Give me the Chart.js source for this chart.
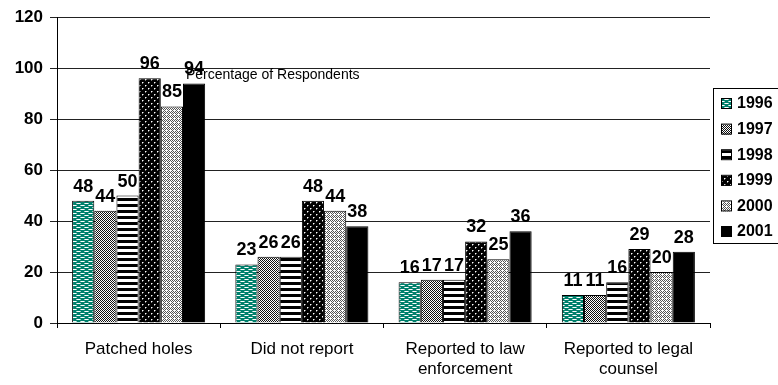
<!DOCTYPE html>
<html>
<head>
<meta charset="utf-8">
<script src="https://cdn.jsdelivr.net/npm/chart.js@4/dist/chart.umd.min.js"></script>
<style>
  html, body { margin: 0; padding: 0; background: #fff; }
  #wrap { position: relative; width: 778px; height: 385px; }
</style>
</head>
<body>
<div id="wrap"><canvas id="respChart"></canvas></div>
<script>
'use strict'
var categories = ['Patched holes', 'Did not report', ['Reported to law', 'enforcement'], ['Reported to legal', 'counsel']];
var years = ['1996', '1997', '1998', '1999', '2000', '2001'];
var v1996 = [48, 23, 16, 11];
var v1997 = [44, 26, 17, 11];
var v1998 = [50, 26, 17, 16];
var v1999 = [96, 48, 32, 29];
var v2000 = [85, 44, 25, 20];
var v2001 = [94, 38, 36, 28];
var yTicks = [0, 20, 40, 60, 80, 100, 120];
var chartTitle = 'Percentage of Respondents';

var FONT = '"Liberation Sans", Arial, sans-serif';

// small tiles used as bar fills
function tile(w, h, draw) {
  var c = document.createElement('canvas');
  c.width = w; c.height = h;
  var g = c.getContext('2d');
  draw(g);
  return g.createPattern(c, 'repeat');
}
function px(g, col, pts) {
  g.fillStyle = col;
  pts.forEach(function (p) { g.fillRect(p[0], p[1], p[2] || 1, p[3] || 1); });
}

var fills = [
  // teal with white dashes
  tile(8, 4, function (g) {
    g.fillStyle = '#00806c'; g.fillRect(0, 0, 8, 4);
    px(g, '#ffffff', [[1, 1, 3, 1], [5, 3, 3, 1]]);
    px(g, '#9fcfc6', [[0, 1], [4, 1], [4, 3], [0, 3]]);
  }),
  // fine grey checker
  tile(2, 2, function (g) {
    g.fillStyle = '#ffffff'; g.fillRect(0, 0, 2, 2);
    px(g, '#111', [[0, 0], [1, 1]]);
  }),
  // horizontal stripes
  tile(1, 6, function (g) {
    g.fillStyle = '#ffffff'; g.fillRect(0, 0, 1, 6);
    px(g, '#000', [[0, 0, 1, 3]]);
  }),
  // black with white dots
  tile(6, 6, function (g) {
    g.fillStyle = '#000'; g.fillRect(0, 0, 6, 6);
    px(g, '#ffffff', [[1, 1], [4, 4]]);
    px(g, '#777', [[2, 1], [1, 2], [5, 4], [4, 5]]);
  }),
  // light diamond lattice
  tile(4, 4, function (g) {
    g.fillStyle = '#ffffff'; g.fillRect(0, 0, 4, 4);
    px(g, '#555', [[0, 0], [2, 0], [1, 1], [3, 1], [0, 2], [1, 3], [3, 3]]);
  }),
  '#000000'
];
var series = [v1996, v1997, v1998, v1999, v2000, v2001];

var datasets = years.map(function (y, i) {
  return {
    label: y,
    data: series[i],
    backgroundColor: fills[i],
    borderColor: '#000',
    borderWidth: 1,
    borderSkipped: 'bottom',
    barPercentage: 1.0,
    categoryPercentage: 0.815
  };
});

// value labels above bars
var valueLabels = {
  id: 'valueLabels',
  afterDatasetsDraw: function (chart) {
    var ctx = chart.ctx;
    ctx.save();
    ctx.font = 'bold 18px ' + FONT;
    ctx.fillStyle = '#000';
    ctx.textAlign = 'center';
    ctx.textBaseline = 'alphabetic';
    chart.data.datasets.forEach(function (ds, i) {
      chart.getDatasetMeta(i).data.forEach(function (bar, j) {
        ctx.fillText(String(ds.data[j]), bar.x, bar.y - 9);
      });
    });
    ctx.restore();
  }
};

// title text sitting inside the plot
var innerTitle = {
  id: 'innerTitle',
  afterDraw: function (chart) {
    var ctx = chart.ctx;
    var a = chart.chartArea;
    ctx.save();
    ctx.font = '14px ' + FONT;
    ctx.fillStyle = '#000';
    ctx.textAlign = 'left';
    ctx.textBaseline = 'middle';
    ctx.fillText(chartTitle, a.left + 129, 75);
    ctx.restore();
  }
};

// boxed legend on the right
var boxLegend = {
  id: 'boxLegend',
  afterDraw: function (chart) {
    var ctx = chart.ctx;
    var x0 = 713.5, y0 = 88.5, y1 = 243.5;
    ctx.save();
    ctx.strokeStyle = '#000';
    ctx.lineWidth = 1;
    ctx.fillStyle = '#fff';
    ctx.fillRect(x0, y0, 80, y1 - y0);
    ctx.strokeRect(x0, y0, 80, y1 - y0);
    ctx.font = 'bold 16px ' + FONT;
    ctx.textBaseline = 'middle';
    chart.data.datasets.forEach(function (ds, i) {
      var cy = 104 + i * 25.6;
      ctx.fillStyle = ds.backgroundColor;
      ctx.fillRect(721, cy - 5, 10, 10);
      ctx.strokeRect(721.5, cy - 5.5, 10, 10);
      ctx.fillStyle = '#000';
      ctx.fillText(ds.label, 737, cy);
    });
    ctx.restore();
  }
};

var config = {
  type: 'bar',
  data: { labels: categories, datasets: datasets },
  options: {
    responsive: true,
    maintainAspectRatio: false,
    animation: false,
    layout: { padding: { top: 13, right: 68, left: 0, bottom: 0 } },
    plugins: {
      legend: { display: false },
      tooltip: { enabled: false },
      title: { display: false }
    },
    scales: {
      x: {
        offset: true,
        grid: { display: true, drawOnChartArea: false, offset: true, color: '#000', tickLength: 5 },
        border: { color: '#000', width: 1 },
        ticks: {
          color: '#000',
          font: { family: FONT, size: 17 },
          padding: 11,
          maxRotation: 0,
          autoSkip: false
        },
        afterFit: function (s) { s.height = 62; }
      },
      y: {
        min: 0,
        max: 120,
        afterBuildTicks: function (s) {
          s.ticks = yTicks.map(function (v) { return { value: v }; });
        },
        grid: { color: '#222', lineWidth: 1, tickLength: 7 },
        border: { color: '#000', width: 1 },
        ticks: {
          color: '#000',
          font: { family: FONT, size: 17, weight: 'bold' },
          padding: 7
        },
        afterFit: function (s) { s.width = 57; }
      }
    }
  },
  plugins: [valueLabels, innerTitle, boxLegend]
};

new Chart(document.getElementById('respChart'), config);
</script>
</body>
</html>
